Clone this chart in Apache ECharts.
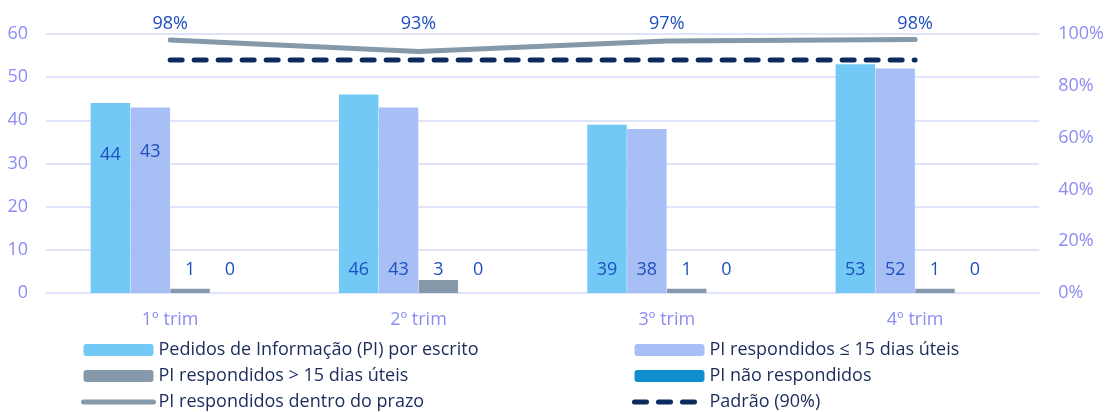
<!DOCTYPE html>
<html><head><meta charset="utf-8">
<script src="https://cdn.jsdelivr.net/npm/echarts@6/dist/echarts.min.js"></script>
<style>html,body{margin:0;padding:0;background:#fff}#c{width:1107px;height:412px}</style>
</head><body><div id="c"></div>
<script>
var categories = ['1º trim', '2º trim', '3º trim', '4º trim'];
var pedidos = [44, 46, 39, 53];
var resp15 = [43, 43, 38, 52];
var respMais15 = [1, 3, 1, 1];
var naoResp = [0, 0, 0, 0];
var dentroPrazo = [0.977, 0.932, 0.973, 0.979];
var padrao = [0.9, 0.9, 0.9, 0.9];
var leftTicks = [0, 10, 20, 30, 40, 50, 60];
var rightTicks = [0, 0.2, 0.4, 0.6, 0.8, 1];

// style: label offsets (pixels) so the percentage labels sit on one row, as in the original
var lineLabelOffsets = [0, -12, -1, 0];

var FONT = "'Open Sans', Lato, sans-serif";
var AX = '#8C8CF2';
var LBL = '#1F4FBF';

function withLabels(arr, firstOffset) {
  return arr.map(function (v, i) {
    if (i === 0 && firstOffset) {
      return { value: v, label: { offset: firstOffset } };
    }
    return v;
  });
}
function barLabel() {
  return { show: true, position: 'insideBottom', offset: [0, -9], color: LBL, fontSize: 18, fontFamily: FONT };
}
var legendText = { color: '#1B2B5B', fontSize: 18, fontFamily: FONT };

var chart = echarts.init(document.getElementById('c'));
chart.setOption({
  animation: false,
  textStyle: { fontFamily: FONT },
  grid: { left: 46, right: 65, top: 34, bottom: 119 },
  legend: [
    {
      orient: 'vertical', left: 76, top: 336, height: 80, itemWidth: 70, itemHeight: 12, itemGap: 8,
      textStyle: legendText,
      data: ['Pedidos de Informação (PI) por escrito', 'PI respondidos > 15 dias úteis',
        { name: 'PI respondidos dentro do prazo', itemStyle: { opacity: 0 }, lineStyle: { width: 5, cap: 'round' } }]
    },
    {
      orient: 'vertical', left: 627, top: 336, height: 80, itemWidth: 70, itemHeight: 12, itemGap: 8,
      textStyle: legendText,
      data: ['PI respondidos ≤ 15 dias úteis', 'PI não respondidos',
        { name: 'Padrão (90%)', itemStyle: { opacity: 0 }, lineStyle: { width: 5, cap: 'round' } }]
    }
  ],
  xAxis: {
    type: 'category', data: categories,
    axisLine: { lineStyle: { color: '#E0E4FA', width: 2 } },
    axisTick: { show: false },
    axisLabel: { color: AX, fontSize: 18, margin: 18, fontFamily: FONT }
  },
  yAxis: [
    {
      type: 'value', min: 0, max: 60, interval: 10,
      axisLine: { show: false }, axisTick: { show: false },
      axisLabel: { color: AX, fontSize: 18, margin: 18, fontFamily: FONT },
      splitLine: { lineStyle: { color: '#E0E4FA', width: 2 } }
    },
    {
      type: 'value', min: 0, max: 1, interval: 0.2, position: 'right',
      axisLine: { show: false }, axisTick: { show: false },
      axisLabel: { color: AX, fontSize: 18, margin: 19, fontFamily: FONT,
        formatter: function (v) { return Math.round(v * 100) + '%'; } },
      splitLine: { show: false }
    }
  ],
  series: [
    { name: 'Pedidos de Informação (PI) por escrito', type: 'bar', data: withLabels(pedidos, [0, -124]),
      barGap: '1%', barCategoryGap: '36%', itemStyle: { color: '#72C9F5' }, label: barLabel() },
    { name: 'PI respondidos ≤ 15 dias úteis', type: 'bar', data: withLabels(resp15, [0, -127]),
      itemStyle: { color: '#A7BFF5' }, label: barLabel() },
    { name: 'PI respondidos > 15 dias úteis', type: 'bar', data: respMais15,
      itemStyle: { color: '#8599AA' }, label: barLabel() },
    { name: 'PI não respondidos', type: 'bar', data: naoResp,
      itemStyle: { color: '#0E8ECF' }, label: barLabel() },
    { name: 'PI respondidos dentro do prazo', type: 'line', yAxisIndex: 1,
      data: dentroPrazo.map(function (v, i) { return { value: v, label: { offset: [0, lineLabelOffsets[i]] } }; }),
      symbol: 'circle', symbolSize: 2, lineStyle: { color: '#8499AA', width: 5, cap: 'round', join: 'round' },
      itemStyle: { color: 'rgba(132,153,170,0)' },
      label: { show: true, position: 'top', distance: 6, color: LBL, fontSize: 18, fontFamily: FONT,
        formatter: function (p) { return Math.round(p.value * 100) + '%'; } } },
    { name: 'Padrão (90%)', type: 'line', yAxisIndex: 1, data: padrao,
      symbol: 'none', lineStyle: { color: '#0B2A5E', width: 5, type: [12, 12], cap: 'round' },
      itemStyle: { color: '#0B2A5E' } }
  ]
});
</script></body></html>
